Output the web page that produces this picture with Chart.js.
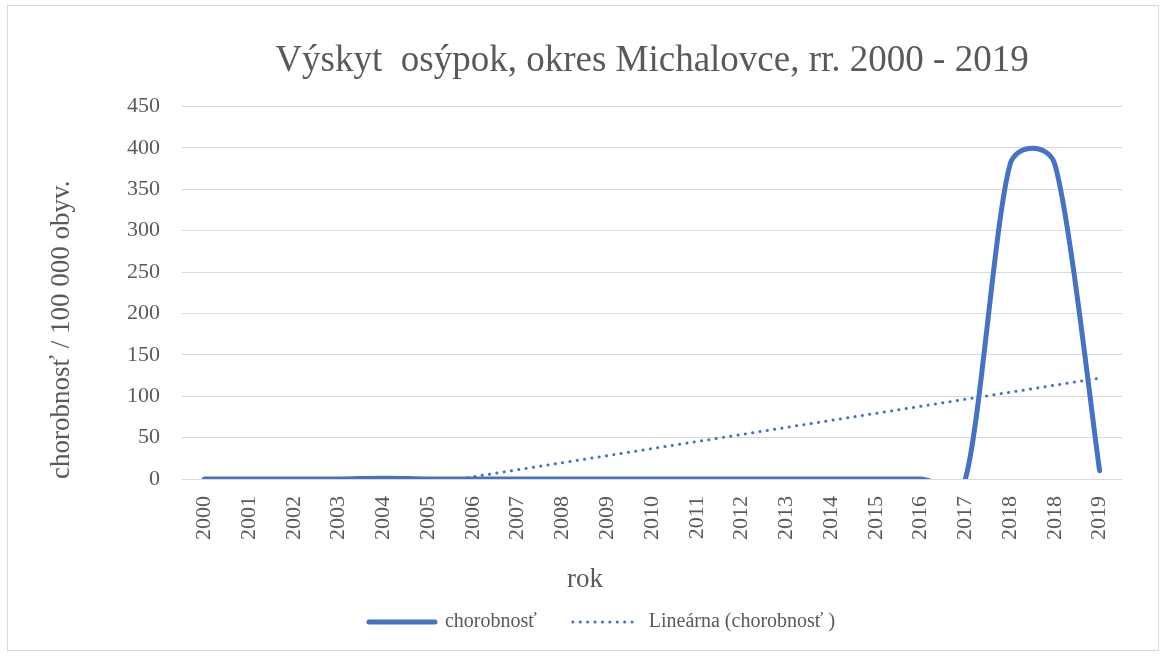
<!DOCTYPE html>
<html>
<head>
<meta charset="utf-8">
<script src="https://cdn.jsdelivr.net/npm/chart.js@4.4.0/dist/chart.umd.min.js"></script>
<style>
  html, body { margin: 0; padding: 0; background: #fff; }
  #frame { position: absolute; left: 7px; top: 5px; width: 1150px; height: 644px; border: 1px solid #d9d9d9; }
  canvas { display: block; }
</style>
</head>
<body>
<div id="frame"><canvas id="chart" width="1150" height="644"></canvas></div>
<script>
// values
const years = ['2000', '2001', '2002', '2003', '2004', '2005', '2006', '2007', '2008', '2009', '2010',
               '2011', '2012', '2013', '2014', '2015', '2016', '2017', '2018', '2018', '2019'];
const incidence = [0, 0, 0, 0, 1, 0, 0, 0, 0, 0, 0, 0, 0, 0, 0, 0, 0, 0, 380, 380, 10];
const yMax = 450;
const yStep = 50;

const titleText = 'Výskyt  osýpok, okres Michalovce, rr. 2000 - 2019';
const yTitle = 'chorobnosť / 100 000 obyv.';
const xTitle = 'rok';
const seriesName = 'chorobnosť';
const trendName = 'Lineárna (chorobnosť )';

const blue = '#4472c4';
const grey = '#595959';
const serif = '"Liberation Serif", "Times New Roman", serif';

// linear trendline (least squares), as the spreadsheet computes it
function linearTrend(values) {
    const n = values.length;
    const mx = (n - 1) / 2;
    const my = values.reduce((a, b) => a + b, 0) / n;
    let sxy = 0, sxx = 0;
    values.forEach((v, i) => {
        sxy += (i - mx) * (v - my);
        sxx += (i - mx) * (i - mx);
    });
    const slope = sxy / sxx;
    return values.map((v, i) => my + slope * (i - mx));
}

// spreadsheet-style smoothing: tangent = (next - prev) / 6,
// shortened to half the segment when the segment is short
const smoothLine = {
    id: 'smoothLine',
    beforeDatasetDraw(chart, args) {
        if (args.index !== 0) return;
        const pts = args.meta.data;
        const n = pts.length;
        const at = i => pts[Math.max(0, Math.min(n - 1, i))];
        const dist = (a, b) => Math.hypot(b.x - a.x, b.y - a.y);
        for (let i = 0; i < n; i++) {
            const prev = at(i - 1), cur = at(i), next = at(i + 1);
            const tx = next.x - prev.x, ty = next.y - prev.y;
            const dt = Math.hypot(tx, ty) || 1;
            const dn = dist(cur, next), dp = dist(prev, cur);
            const fn = dt / 6 > dn / 2 ? dn / (2 * dt) : 1 / 6;
            const fp = dt / 6 > dp / 2 ? dp / (2 * dt) : 1 / 6;
            cur.cp2x = cur.x + fn * tx; cur.cp2y = cur.y + fn * ty;
            cur.cp1x = cur.x - fp * tx; cur.cp1y = cur.y - fp * ty;
        }
        args.meta.dataset._pointsUpdated = true;
        args.meta.dataset._path = undefined;
    }
};

// the x axis title sits centred on the whole chart, not on the plot area
const xTitlePlugin = {
    id: 'xTitle',
    afterDraw(chart) {
        const c = chart.ctx;
        c.save();
        c.font = '27px ' + serif;
        c.fillStyle = grey;
        c.textAlign = 'center';
        c.textBaseline = 'middle';
        c.fillText(xTitle, chart.width / 2 + 2, chart.scales.x.bottom + 4);
        c.restore();
    }
};

const ctx = document.getElementById('chart').getContext('2d');
new Chart(ctx, {
    type: 'line',
    data: {
        labels: years,
        datasets: [
            {
                label: seriesName,
                data: incidence,
                borderColor: blue,
                backgroundColor: blue,
                borderWidth: 5,
                tension: 0.4,
                capBezierPoints: false,
                pointRadius: 0,
                borderCapStyle: 'round'
            },
            {
                label: trendName,
                data: linearTrend(incidence),
                borderColor: blue,
                backgroundColor: blue,
                borderWidth: 3,
                borderDash: [0.1, 7.3],
                borderCapStyle: 'round',
                pointRadius: 0,
                tension: 0
            }
        ]
    },
    plugins: [smoothLine, xTitlePlugin],
    options: {
        responsive: false,
        animation: false,
        layout: { padding: { left: 38, right: 0, top: 0, bottom: 8 } },
        plugins: {
            title: {
                display: true,
                fullSize: false,
                text: titleText,
                color: grey,
                font: { family: serif, size: 37, weight: 'normal' },
                padding: { top: 33, bottom: 23 }
            },
            legend: {
                position: 'bottom',
                labels: {
                    usePointStyle: true,
                    pointStyle: 'line',
                    pointStyleWidth: 66,
                    color: grey,
                    padding: 36,
                    font: { family: serif, size: 20 },
                    generateLabels: chart => {
                        const items = Chart.defaults.plugins.legend.labels.generateLabels(chart);
                        items.forEach(item => {
                            const ds = chart.data.datasets[item.datasetIndex];
                            item.lineDash = ds.borderDash || [];
                            item.lineCap = ds.borderCapStyle;
                            item.lineWidth = ds.borderWidth;
                            item.strokeStyle = ds.borderColor;
                        });
                        return items;
                    }
                }
            },
            tooltip: { enabled: false }
        },
        scales: {
            x: {
                offset: true,
                grid: { display: false },
                border: { display: false },
                ticks: {
                    color: grey,
                    font: { family: serif, size: 22 },
                    minRotation: 90,
                    maxRotation: 90,
                    autoSkip: false,
                    padding: 9
                },
                afterFit: s => { s.height = 97; }
            },
            y: {
                min: 0,
                max: yMax,
                grid: { color: '#d9d9d9', lineWidth: 1, drawTicks: false },
                border: { display: false },
                ticks: {
                    stepSize: yStep,
                    color: grey,
                    font: { family: serif, size: 22 },
                    padding: 22
                },
                title: {
                    display: true,
                    text: yTitle,
                    align: 'start',
                    color: grey,
                    font: { family: serif, size: 27 },
                    padding: { top: 0, bottom: 0 }
                },
                afterFit: s => { s.width = 136; }
            },
            yRight: {
                position: 'right',
                display: true,
                grid: { display: false },
                border: { display: false },
                ticks: { display: false },
                afterFit: s => { s.width = 36; }
            }
        }
    }
});
</script>
</body>
</html>
